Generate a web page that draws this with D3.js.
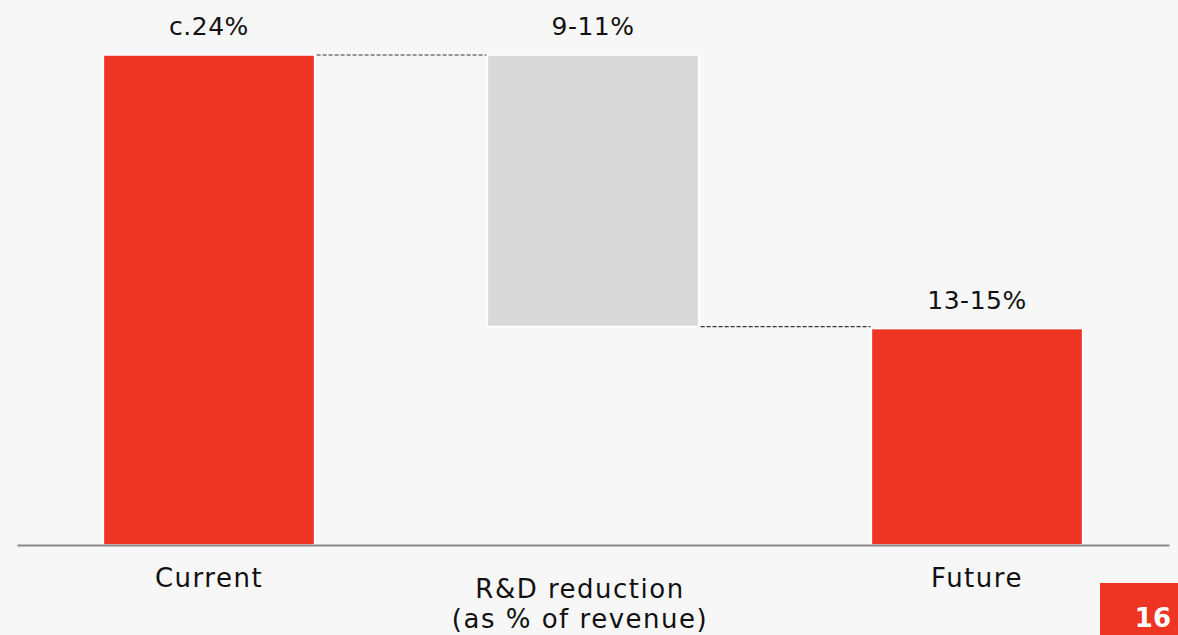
<!DOCTYPE html>
<html>
<head>
<meta charset="utf-8">
<script src="https://cdn.jsdelivr.net/npm/d3@7"></script>
<style>
  html, body { margin: 0; padding: 0; background: #f7f7f7; }
  svg { display: block; }
  text { font-family: "DejaVu Sans", sans-serif; }
</style>
</head>
<body>
<div class="chart"></div>
<script>
// R&D as % of revenue, waterfall: current -> reduction -> future

var categories = ["Current", "R&D reduction", "Future"];
var catLines = [["Current"], ["R&D reduction", "(as % of revenue)"], ["Future"]];
var valueLabels = ["c.24%", "9-11%", "13-15%"];
// start and end of each bar
var barStart = [0, 24, 0];
var barEnd = [24, 10.7, 10.6];
var barKind = ["total", "step", "total"];
var pageNumber = "16";

var svgWidth = 1178;
var svgHeight = 635;

var svg = d3.select(".chart")
  .append("svg")
  .attr("width", svgWidth)
  .attr("height", svgHeight);

svg.append("rect")
  .attr("width", svgWidth)
  .attr("height", svgHeight)
  .attr("fill", "#f7f7f7");

var x = d3.scaleBand()
  .domain(categories)
  .range([17, 1169])
  .paddingInner(0.45)
  .paddingOuter(0.225);

var y = d3.scaleLinear()
  .domain([0, 24])
  .range([545, 55]);

var data = categories.map(function(c, i) {
  return { cat: c, lines: catLines[i], label: valueLabels[i],
           lo: Math.min(barStart[i], barEnd[i]), hi: Math.max(barStart[i], barEnd[i]),
           end: barEnd[i], kind: barKind[i] };
});

// dashed connectors between bars
for (var i = 0; i < data.length - 1; i++) {
  svg.append("line")
    .attr("x1", x(data[i].cat) + x.bandwidth() + 2)
    .attr("x2", x(data[i + 1].cat) - 1)
    .attr("y1", y(data[i].end))
    .attr("y2", y(data[i].end))
    .attr("stroke", "#333")
    .attr("stroke-width", 1.2)
    .attr("stroke-dasharray", "4,2");
}

// bars
svg.selectAll("rect.bar")
  .data(data)
  .enter().append("rect")
    .attr("class", "bar")
    .attr("x", function(d) { return x(d.cat); })
    .attr("y", function(d) { return y(d.hi); })
    .attr("width", x.bandwidth())
    .attr("height", function(d) { return y(d.lo) - y(d.hi); })
    .attr("fill", function(d) { return d.kind === "total" ? "#ee3524" : "#d9d9d9"; })
    .attr("stroke", "#ffffff")
    .attr("stroke-width", 1.5);

// x axis line
var xAxis = d3.axisBottom(x).tickSize(0).tickFormat("");
svg.append("g")
  .attr("transform", "translate(0,545)")
  .call(xAxis)
  .call(function(g) {
    g.select(".domain").attr("stroke", "#888").attr("stroke-width", 2);
  });

// value labels above bars
svg.selectAll("text.val")
  .data(data)
  .enter().append("text")
    .attr("class", "val")
    .attr("x", function(d) { return x(d.cat) + x.bandwidth() / 2; })
    .attr("y", function(d) { return y(d.hi) - 20; })
    .attr("text-anchor", "middle")
    .attr("font-size", "25px")
    .attr("letter-spacing", "0.5px")
    .attr("fill", "#111")
    .text(function(d) { return d.label; });

// category labels (two-line label sits a little left of its bar centre)
function catX(d) {
  return x(d.cat) + x.bandwidth() / 2 + (d.lines.length > 1 ? -13 : 0);
}

var cats = svg.selectAll("text.cat")
  .data(data)
  .enter().append("text")
    .attr("class", "cat")
    .attr("x", catX)
    .attr("y", function(d) { return d.lines.length > 1 ? 598 : 587; })
    .attr("text-anchor", "middle")
    .attr("font-size", "26px")
    .attr("letter-spacing", "1.5px")
    .attr("fill", "#111");

cats.selectAll("tspan")
  .data(function(d) { return d.lines; })
  .enter().append("tspan")
    .attr("x", function() { return catX(d3.select(this.parentNode).datum()); })
    .attr("dy", function(d, i) { return i === 0 ? 0 : 30; })
    .text(function(d) { return d; });

// page number box
svg.append("rect")
  .attr("x", 1100)
  .attr("y", 583)
  .attr("width", 78)
  .attr("height", 52)
  .attr("fill", "#ee3524");

svg.append("text")
  .attr("x", 1171)
  .attr("y", 627)
  .attr("text-anchor", "end")
  .attr("font-size", "26px")
  .attr("font-weight", "bold")
  .attr("fill", "#ffffff")
  .text(pageNumber);
</script>
</body>
</html>
